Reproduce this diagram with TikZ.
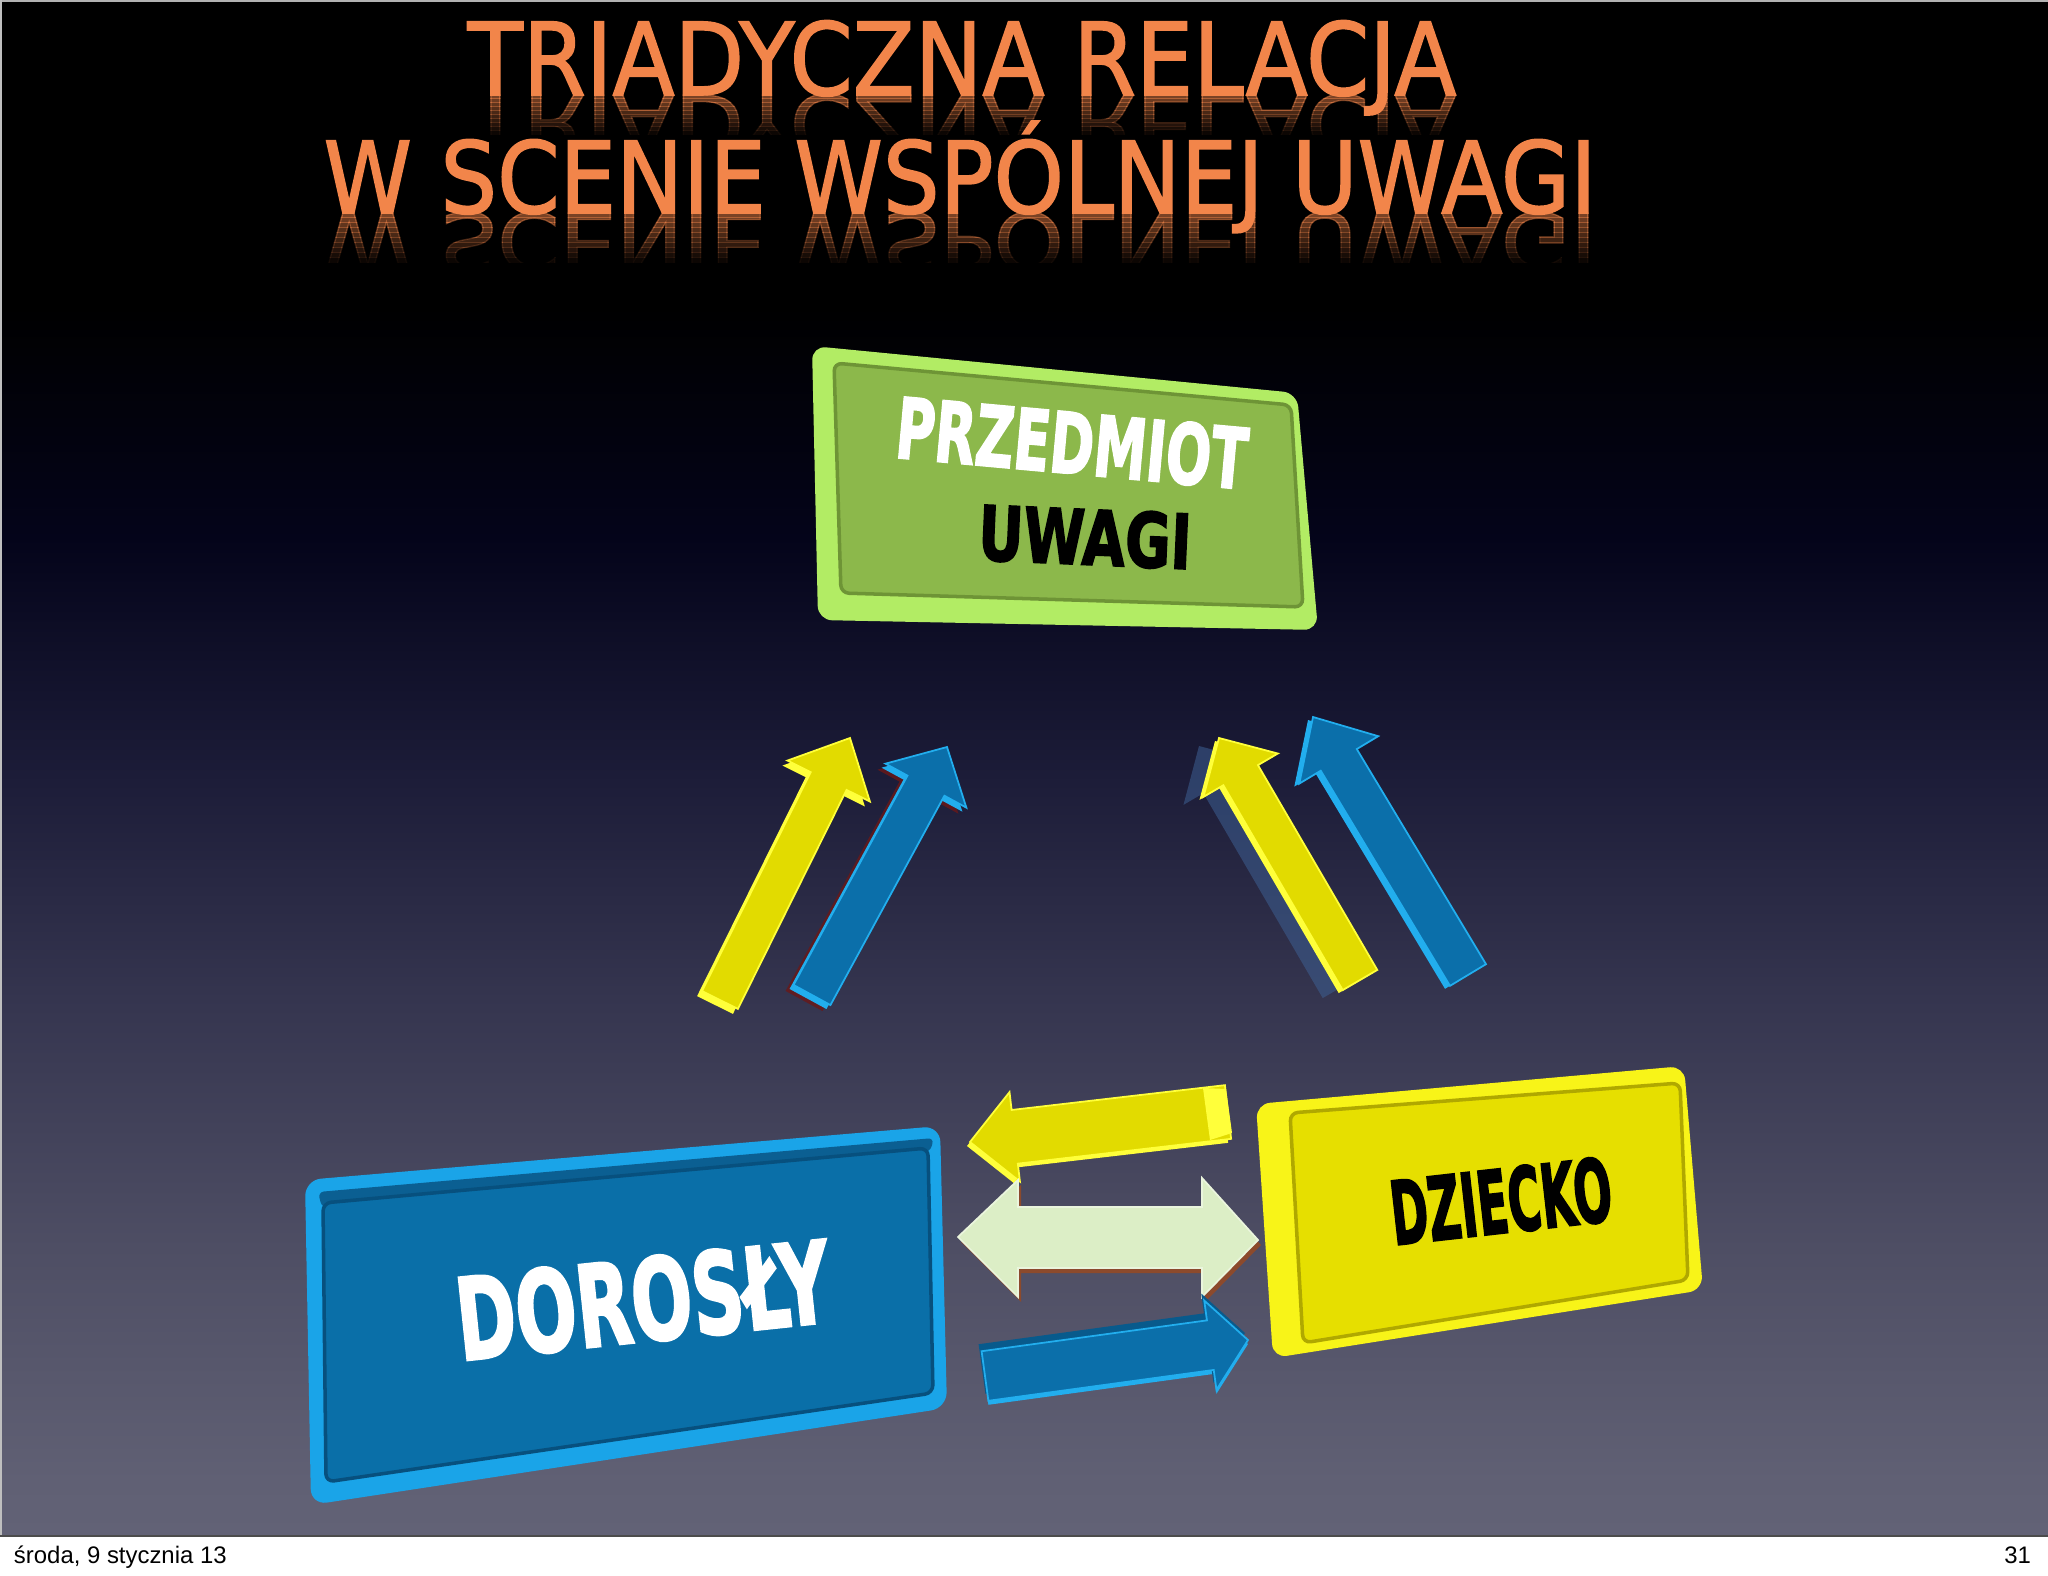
\documentclass[tikz,border=0pt]{standalone}
\usepackage{fontspec}
\usepackage{graphicx}
\usetikzlibrary{calc}
\newfontfamily\djv{DejaVu Sans}[FakeBold=1.6]
\newfontfamily\lblfont{DejaVu Sans}[BoldFeatures={FakeBold=2.5}]
\newfontfamily\footfont{Liberation Sans}
\definecolor{bg0}{HTML}{626276}
\definecolor{bg1}{HTML}{606074}
\definecolor{bg2}{HTML}{4E4E64}
\definecolor{bg3}{HTML}{363650}
\definecolor{bg4}{HTML}{1C1C38}
\definecolor{bg5}{HTML}{04041A}
\definecolor{titleor}{HTML}{F2854A}
\definecolor{greenface}{HTML}{8CB84B}
\definecolor{greenside}{HTML}{B2EC64}
\definecolor{greenline}{HTML}{6E9436}
\definecolor{blueface}{HTML}{0A6FA8}
\definecolor{bluerim}{HTML}{1AA4E8}
\definecolor{bluetop}{HTML}{0B5F92}
\definecolor{blueline}{HTML}{07507E}
\definecolor{yellowface}{HTML}{E6DF00}
\definecolor{yellowrim}{HTML}{F8F418}
\definecolor{yellowline}{HTML}{B0A800}
\definecolor{ayface}{HTML}{E2DB00}
\definecolor{ayedge}{HTML}{FFFF3A}
\definecolor{abface}{HTML}{0B6FAA}
\definecolor{abedge}{HTML}{22AEEE}
\definecolor{abtop}{HTML}{085A8C}
\definecolor{awface}{HTML}{DCEEC6}
\definecolor{awshadow}{HTML}{8C4A2C}
\definecolor{redshadow}{HTML}{6A1818}
\definecolor{ghost}{HTML}{3D5F92}
\pgfdeclareverticalshading{bgshade}{100bp}{color(0bp)=(bg0); color(25bp)=(bg0); color(26.8bp)=(bg1); color(34.4bp)=(bg2); color(42.2bp)=(bg3); color(49.8bp)=(bg4); color(57.5bp)=(bg5); color(65bp)=(black); color(100bp)=(black)}
\newcommand\titleA{\resizebox{9.88cm}{!}{\scalebox{1}[1.11]{TRIADYCZNA RELACJA}}}
\newcommand\titleB{\resizebox{12.72cm}{!}{\scalebox{1}[1.11]{W SCENIE WSPÓLNEJ UWAGI}}}
% #1 name, #2 tail coord, #3 tip coord, #4 shaft half width, #5 head half width, #6 head length, #7 style
\newcommand\slarrow[7]{%
  \coordinate (#1h) at ($(#3)!#6!(#2)$);
  \path[#7] ($(#2)!#4!90:(#3)$) -- ($(#1h)!#4!90:(#3)$) -- ($(#1h)!#5!90:(#3)$) -- (#3)
    -- ($(#1h)!#5!-90:(#3)$) -- ($(#1h)!#4!-90:(#3)$) -- ($(#2)!#4!-90:(#3)$) -- cycle;}
\begin{document}
\begin{tikzpicture}[x=0.01cm, y=-0.01cm,
  titletext/.style={inner sep=0, outer sep=0, font=\djv, text=titleor, anchor=base},
  lbl/.style={inner sep=0, outer sep=0, font=\lblfont\bfseries},
  foottext/.style={inner sep=0, outer sep=0, font={\footfont\fontsize{6.8pt}{8pt}\selectfont}, text=black},
  yarrow/.style={fill=ayface, draw=ayedge, line width=0.5pt},
  yedge/.style={fill=ayedge},
  barrow/.style={fill=abface, draw=abedge, line width=0.5pt},
  bedge/.style={fill=abedge},
]
\useasboundingbox (0,0) rectangle (2048,1576);
% background
\shade[shading=bgshade] (0,0) rectangle (2048,1536);
\draw[gray!60, line width=0.6pt] (0,1) -- (2048,1);
\draw[gray!50, line width=0.6pt] (1,0) -- (1,1536);
% footer
\fill[white] (0,1536) rectangle (2048,1576);
\draw[gray!60!black, line width=0.7pt] (0,1536) -- (2048,1536);
\node[foottext, anchor=base west] (date) at (14,1563) {środa, 9 stycznia 13};
\node[foottext, anchor=base east] (page) at (2031,1563) {31};
% title
\node[titletext] (title1) at (962,95) {\titleA};
\node[titletext] (title2) at (960,213) {\titleB};
\foreach \i in {0,...,9} {
  \pgfmathsetmacro\op{0.5*(1-\i/10)}
  \begin{scope}
    \clip (0,{95+4*\i}) rectangle (2048,{99+4*\i});
    \node[titletext, opacity=\op, text opacity=\op] (refA\i) at (962,95) {\scalebox{1}[-0.8]{\titleA}};
  \end{scope}
  \begin{scope}
    \clip (0,{213+5*\i}) rectangle (2048,{218+5*\i});
    \node[titletext, opacity=\op, text opacity=\op] (refB\i) at (960,213) {\scalebox{1}[-0.8]{\titleB}};
  \end{scope}
}
% green box
\fill[greenside, rounded corners=0.14cm] (812,346) -- (1297,393) -- (1318,630) -- (818,620) -- cycle;
\filldraw[fill=greenface, draw=greenline, line width=1pt, rounded corners=0.08cm] (834,363) -- (1291,405) -- (1303,607) -- (841,593) -- cycle;
\node[lbl, text=white, rotate=-5.2] (przedmiot) at (1072,443) {\resizebox{3.52cm}{0.62cm}{PRZEDMIOT}};
\node[lbl, text=black, rotate=-2.5] (uwagi) at (1085,537) {\resizebox{2.13cm}{0.56cm}{UWAGI}};
% blue box
\fill[bluerim, rounded corners=0.16cm] (305,1180) -- (940,1126) -- (947,1408) -- (311,1505) -- cycle;
\fill[bluetop, rounded corners=0.06cm] (318,1192) -- (934,1138) -- (930,1152) -- (322,1208) -- cycle;
\filldraw[fill=blueface, draw=blueline, line width=1pt, rounded corners=0.08cm] (323,1203) -- (928,1148) -- (933,1393) -- (326,1482) -- cycle;
\node[lbl, text=white, rotate=6] (dorosly) at (643,1300) {\resizebox{3.75cm}{0.84cm}{DOROSŁY}};
% yellow box
\fill[yellowrim, rounded corners=0.14cm] (1256,1104) -- (1684,1066) -- (1703,1290) -- (1273,1358) -- cycle;
\filldraw[fill=yellowface, draw=yellowline, line width=1pt, rounded corners=0.08cm] (1290,1113) -- (1680,1083) -- (1688,1280) -- (1303,1343) -- cycle;
\node[lbl, text=black, rotate=6.4] (dziecko) at (1501,1201) {\resizebox{2.22cm}{0.65cm}{DZIECKO}};
% slanted arrows
\coordinate (lyT) at (720,1000); \coordinate (lyP) at (850,738);
\coordinate (lbT) at (812,995);  \coordinate (lbP) at (947,747);
\coordinate (ryT) at (1360,980); \coordinate (ryP) at (1219,738);
\coordinate (rbT) at (1468,975); \coordinate (rbP) at (1313,717);
\begin{scope}[transform canvas={shift={(-5,5)}}]
  \slarrow{ly}{lyT}{lyP}{0.20cm}{0.46cm}{0.48cm}{yedge}
\end{scope}
\slarrow{ly}{lyT}{lyP}{0.20cm}{0.46cm}{0.48cm}{yarrow}
\begin{scope}[transform canvas={shift={(-8,6)}}]
  \slarrow{lb}{lbT}{lbP}{0.21cm}{0.46cm}{0.44cm}{fill=redshadow, opacity=0.8}
\end{scope}
\begin{scope}[transform canvas={shift={(-4,4)}}]
  \slarrow{lb}{lbT}{lbP}{0.21cm}{0.46cm}{0.44cm}{bedge}
\end{scope}
\slarrow{lb}{lbT}{lbP}{0.21cm}{0.46cm}{0.44cm}{barrow}
\begin{scope}[transform canvas={shift={(-20,8)}}]
  \slarrow{ry}{ryT}{ryP}{0.20cm}{0.43cm}{0.43cm}{fill=ghost, opacity=0.55}
\end{scope}
\begin{scope}[transform canvas={shift={(-4,3)}}]
  \slarrow{ry}{ryT}{ryP}{0.20cm}{0.43cm}{0.43cm}{yedge}
\end{scope}
\slarrow{ry}{ryT}{ryP}{0.20cm}{0.43cm}{0.43cm}{yarrow}
\begin{scope}[transform canvas={shift={(-5,3)}}]
  \slarrow{rb}{rbT}{rbP}{0.21cm}{0.46cm}{0.50cm}{bedge}
\end{scope}
\slarrow{rb}{rbT}{rbP}{0.21cm}{0.46cm}{0.50cm}{barrow}
% horizontal yellow arrow (to DOROSLY)
\coordinate (hyT) at (1228,1112); \coordinate (hyP) at (970,1142);
\begin{scope}[transform canvas={shift={(-3,4)}}]
  \slarrow{hy}{hyT}{hyP}{0.27cm}{0.45cm}{0.45cm}{yedge}
\end{scope}
\slarrow{hy}{hyT}{hyP}{0.27cm}{0.45cm}{0.45cm}{yarrow}
\fill[ayedge] (1203,1088) -- (1226,1089) -- (1232,1133) -- (1210,1140) -- cycle;
% double arrow
\begin{scope}[transform canvas={shift={(3,5)}}]
  \fill[awshadow] (958,1237) -- (1018,1180) -- (1018,1207) -- (1202,1207) -- (1202,1178) -- (1258,1240) -- (1202,1297) -- (1202,1268) -- (1018,1268) -- (1018,1297) -- cycle;
\end{scope}
\filldraw[fill=awface, draw=awface!60!white, line width=0.5pt] (958,1237) -- (1018,1180) -- (1018,1207) -- (1202,1207) -- (1202,1178) -- (1258,1240) -- (1202,1297) -- (1202,1268) -- (1018,1268) -- (1018,1297) -- cycle;
% horizontal blue arrow (to DZIECKO)
\coordinate (hbT) at (985,1376); \coordinate (hbP) at (1248,1340);
\begin{scope}[transform canvas={shift={(0,4)}}]
  \slarrow{hb}{hbT}{hbP}{0.25cm}{0.45cm}{0.38cm}{bedge}
\end{scope}
\begin{scope}[transform canvas={shift={(-3,-7)}}]
  \slarrow{hb}{hbT}{hbP}{0.25cm}{0.45cm}{0.38cm}{fill=abtop}
\end{scope}
\slarrow{hb}{hbT}{hbP}{0.25cm}{0.45cm}{0.38cm}{barrow}
\end{tikzpicture}
\end{document}
